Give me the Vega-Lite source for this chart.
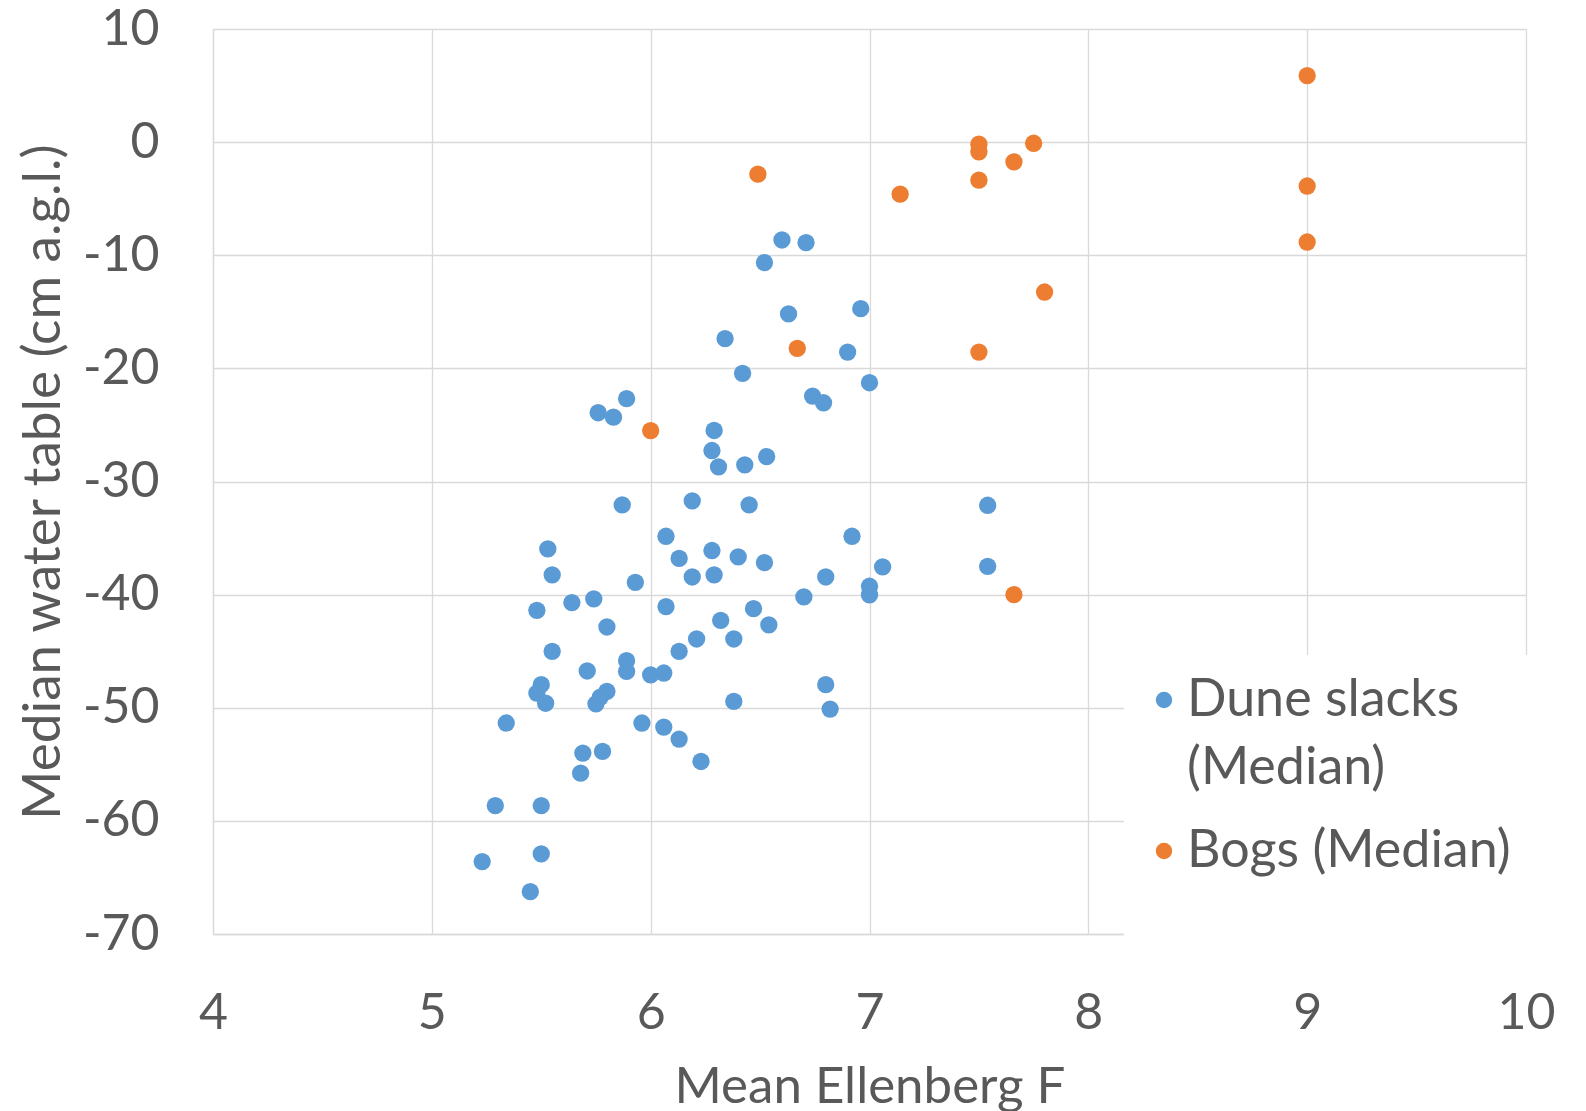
{
  "$schema": "https://vega.github.io/schema/vega-lite/v6.json",
  "autosize": "none",
  "width": 1313,
  "height": 905,
  "padding": {"left": 213, "top": 29, "right": 60, "bottom": 177},
  "background": "white",
  "config": {
    "font": "Lato",
    "view": {"stroke": null},
    "axis": {
      "labelFont": "Lato", "labelFontSize": 50, "labelColor": "#595959",
      "titleFont": "Lato", "titleFontSize": 51, "titleColor": "#595959", "titleFontWeight": "normal",
      "gridColor": "#D9D9D9", "gridWidth": 1.3, "domainColor": "#D9D9D9", "domainWidth": 1.3,
      "ticks": false, "tickSize": 0, "labelFlush": false
    },
    "legend": {
      "labelFont": "Lato", "labelFontSize": 52, "labelColor": "#595959"
    },
    "style": {"guide-label": {"lineHeight": 68}}
  },
  "data": {"values": [
    {"f": 6.60, "wt": -8.65, "series": "Dune slacks (Median)"},
    {"f": 6.71, "wt": -8.88, "series": "Dune slacks (Median)"},
    {"f": 6.52, "wt": -10.65, "series": "Dune slacks (Median)"},
    {"f": 6.96, "wt": -14.72, "series": "Dune slacks (Median)"},
    {"f": 6.63, "wt": -15.19, "series": "Dune slacks (Median)"},
    {"f": 6.34, "wt": -17.37, "series": "Dune slacks (Median)"},
    {"f": 6.90, "wt": -18.56, "series": "Dune slacks (Median)"},
    {"f": 6.42, "wt": -20.44, "series": "Dune slacks (Median)"},
    {"f": 7.00, "wt": -21.27, "series": "Dune slacks (Median)"},
    {"f": 6.74, "wt": -22.45, "series": "Dune slacks (Median)"},
    {"f": 6.79, "wt": -23.04, "series": "Dune slacks (Median)"},
    {"f": 5.89, "wt": -22.68, "series": "Dune slacks (Median)"},
    {"f": 5.76, "wt": -23.92, "series": "Dune slacks (Median)"},
    {"f": 5.83, "wt": -24.31, "series": "Dune slacks (Median)"},
    {"f": 6.29, "wt": -25.49, "series": "Dune slacks (Median)"},
    {"f": 6.28, "wt": -27.26, "series": "Dune slacks (Median)"},
    {"f": 6.31, "wt": -28.70, "series": "Dune slacks (Median)"},
    {"f": 6.43, "wt": -28.53, "series": "Dune slacks (Median)"},
    {"f": 6.53, "wt": -27.80, "series": "Dune slacks (Median)"},
    {"f": 5.87, "wt": -32.06, "series": "Dune slacks (Median)"},
    {"f": 6.19, "wt": -31.71, "series": "Dune slacks (Median)"},
    {"f": 6.45, "wt": -32.06, "series": "Dune slacks (Median)"},
    {"f": 6.07, "wt": -34.84, "series": "Dune slacks (Median)"},
    {"f": 6.92, "wt": -34.84, "series": "Dune slacks (Median)"},
    {"f": 5.53, "wt": -35.96, "series": "Dune slacks (Median)"},
    {"f": 6.28, "wt": -36.10, "series": "Dune slacks (Median)"},
    {"f": 6.13, "wt": -36.80, "series": "Dune slacks (Median)"},
    {"f": 6.40, "wt": -36.67, "series": "Dune slacks (Median)"},
    {"f": 6.52, "wt": -37.17, "series": "Dune slacks (Median)"},
    {"f": 7.06, "wt": -37.55, "series": "Dune slacks (Median)"},
    {"f": 5.55, "wt": -38.26, "series": "Dune slacks (Median)"},
    {"f": 6.19, "wt": -38.44, "series": "Dune slacks (Median)"},
    {"f": 6.29, "wt": -38.26, "series": "Dune slacks (Median)"},
    {"f": 6.80, "wt": -38.44, "series": "Dune slacks (Median)"},
    {"f": 5.93, "wt": -38.91, "series": "Dune slacks (Median)"},
    {"f": 7.00, "wt": -39.26, "series": "Dune slacks (Median)"},
    {"f": 7.00, "wt": -40.03, "series": "Dune slacks (Median)"},
    {"f": 6.70, "wt": -40.20, "series": "Dune slacks (Median)"},
    {"f": 5.74, "wt": -40.38, "series": "Dune slacks (Median)"},
    {"f": 5.64, "wt": -40.70, "series": "Dune slacks (Median)"},
    {"f": 5.48, "wt": -41.39, "series": "Dune slacks (Median)"},
    {"f": 6.07, "wt": -41.06, "series": "Dune slacks (Median)"},
    {"f": 6.47, "wt": -41.24, "series": "Dune slacks (Median)"},
    {"f": 5.80, "wt": -42.86, "series": "Dune slacks (Median)"},
    {"f": 6.54, "wt": -42.68, "series": "Dune slacks (Median)"},
    {"f": 6.38, "wt": -43.92, "series": "Dune slacks (Median)"},
    {"f": 6.32, "wt": -42.27, "series": "Dune slacks (Median)"},
    {"f": 6.21, "wt": -43.92, "series": "Dune slacks (Median)"},
    {"f": 6.13, "wt": -45.01, "series": "Dune slacks (Median)"},
    {"f": 5.55, "wt": -45.01, "series": "Dune slacks (Median)"},
    {"f": 5.71, "wt": -46.75, "series": "Dune slacks (Median)"},
    {"f": 5.89, "wt": -45.84, "series": "Dune slacks (Median)"},
    {"f": 5.89, "wt": -46.78, "series": "Dune slacks (Median)"},
    {"f": 6.00, "wt": -47.10, "series": "Dune slacks (Median)"},
    {"f": 6.06, "wt": -46.93, "series": "Dune slacks (Median)"},
    {"f": 6.80, "wt": -47.96, "series": "Dune slacks (Median)"},
    {"f": 5.50, "wt": -47.96, "series": "Dune slacks (Median)"},
    {"f": 5.48, "wt": -48.70, "series": "Dune slacks (Median)"},
    {"f": 5.52, "wt": -49.60, "series": "Dune slacks (Median)"},
    {"f": 5.80, "wt": -48.55, "series": "Dune slacks (Median)"},
    {"f": 5.77, "wt": -49.06, "series": "Dune slacks (Median)"},
    {"f": 5.75, "wt": -49.65, "series": "Dune slacks (Median)"},
    {"f": 6.38, "wt": -49.44, "series": "Dune slacks (Median)"},
    {"f": 6.82, "wt": -50.12, "series": "Dune slacks (Median)"},
    {"f": 5.34, "wt": -51.35, "series": "Dune slacks (Median)"},
    {"f": 5.96, "wt": -51.35, "series": "Dune slacks (Median)"},
    {"f": 6.06, "wt": -51.71, "series": "Dune slacks (Median)"},
    {"f": 6.13, "wt": -52.77, "series": "Dune slacks (Median)"},
    {"f": 5.69, "wt": -54.01, "series": "Dune slacks (Median)"},
    {"f": 5.78, "wt": -53.86, "series": "Dune slacks (Median)"},
    {"f": 6.23, "wt": -54.75, "series": "Dune slacks (Median)"},
    {"f": 5.68, "wt": -55.78, "series": "Dune slacks (Median)"},
    {"f": 5.29, "wt": -58.65, "series": "Dune slacks (Median)"},
    {"f": 5.50, "wt": -58.65, "series": "Dune slacks (Median)"},
    {"f": 5.50, "wt": -62.92, "series": "Dune slacks (Median)"},
    {"f": 5.23, "wt": -63.60, "series": "Dune slacks (Median)"},
    {"f": 5.45, "wt": -66.26, "series": "Dune slacks (Median)"},
    {"f": 7.54, "wt": -32.10, "series": "Dune slacks (Median)"},
    {"f": 7.54, "wt": -37.50, "series": "Dune slacks (Median)"},
    {"f": 6.00, "wt": -25.50, "series": "Bogs (Median)"},
    {"f": 6.49, "wt": -2.83, "series": "Bogs (Median)"},
    {"f": 7.14, "wt": -4.60, "series": "Bogs (Median)"},
    {"f": 7.50, "wt": -0.18, "series": "Bogs (Median)"},
    {"f": 7.50, "wt": -0.86, "series": "Bogs (Median)"},
    {"f": 7.50, "wt": -3.36, "series": "Bogs (Median)"},
    {"f": 7.66, "wt": -1.74, "series": "Bogs (Median)"},
    {"f": 7.75, "wt": -0.10, "series": "Bogs (Median)"},
    {"f": 7.80, "wt": -13.25, "series": "Bogs (Median)"},
    {"f": 6.67, "wt": -18.23, "series": "Bogs (Median)"},
    {"f": 7.50, "wt": -18.56, "series": "Bogs (Median)"},
    {"f": 7.66, "wt": -40.00, "series": "Bogs (Median)"},
    {"f": 9.00, "wt": 5.88, "series": "Bogs (Median)"},
    {"f": 9.00, "wt": -3.88, "series": "Bogs (Median)"},
    {"f": 9.00, "wt": -8.83, "series": "Bogs (Median)"}
  ]},
  "mark": {"type": "circle", "size": 300, "opacity": 1},
  "encoding": {
    "x": {
      "field": "f", "type": "quantitative",
      "scale": {"domain": [4, 10], "nice": false, "zero": false},
      "axis": {"values": [4, 5, 6, 7, 8, 9, 10], "title": "Mean Ellenberg F", "labelPadding": 54, "titlePadding": 24, "grid": true}
    },
    "y": {
      "field": "wt", "type": "quantitative",
      "scale": {"domain": [-70, 10], "nice": false, "zero": false},
      "axis": {"values": [10, 0, -10, -20, -30, -40, -50, -60, -70], "labelExpr": "replace(datum.label, '\u2212', '-')", "title": "Median water table (cm a.g.l.)", "titleFontSize": 53, "labelPadding": 54, "titlePadding": 12, "grid": true}
    },
    "color": {
      "field": "series", "type": "nominal",
      "scale": {"domain": ["Dune slacks (Median)", "Bogs (Median)"], "range": ["#5B9BD5", "#ED7D31"]},
      "legend": {
        "orient": "none", "legendX": 911, "legendY": 626,
        "padding": 19, "fillColor": "white",
        "symbolType": "circle", "symbolSize": 270, "symbolStrokeWidth": 0, "symbolOffset": -5,
        "labelOffset": -3, "labelLimit": 600, "rowPadding": 31,
        "labelExpr": "datum.label == 'Dune slacks (Median)' ? ['Dune slacks', '(Median)'] : datum.label",
        "title": "\u00a0", "titleOrient": "bottom", "titleFontSize": 40, "titlePadding": 10
      }
    },
    "order": {"field": "series", "sort": "descending"}
  }
}
